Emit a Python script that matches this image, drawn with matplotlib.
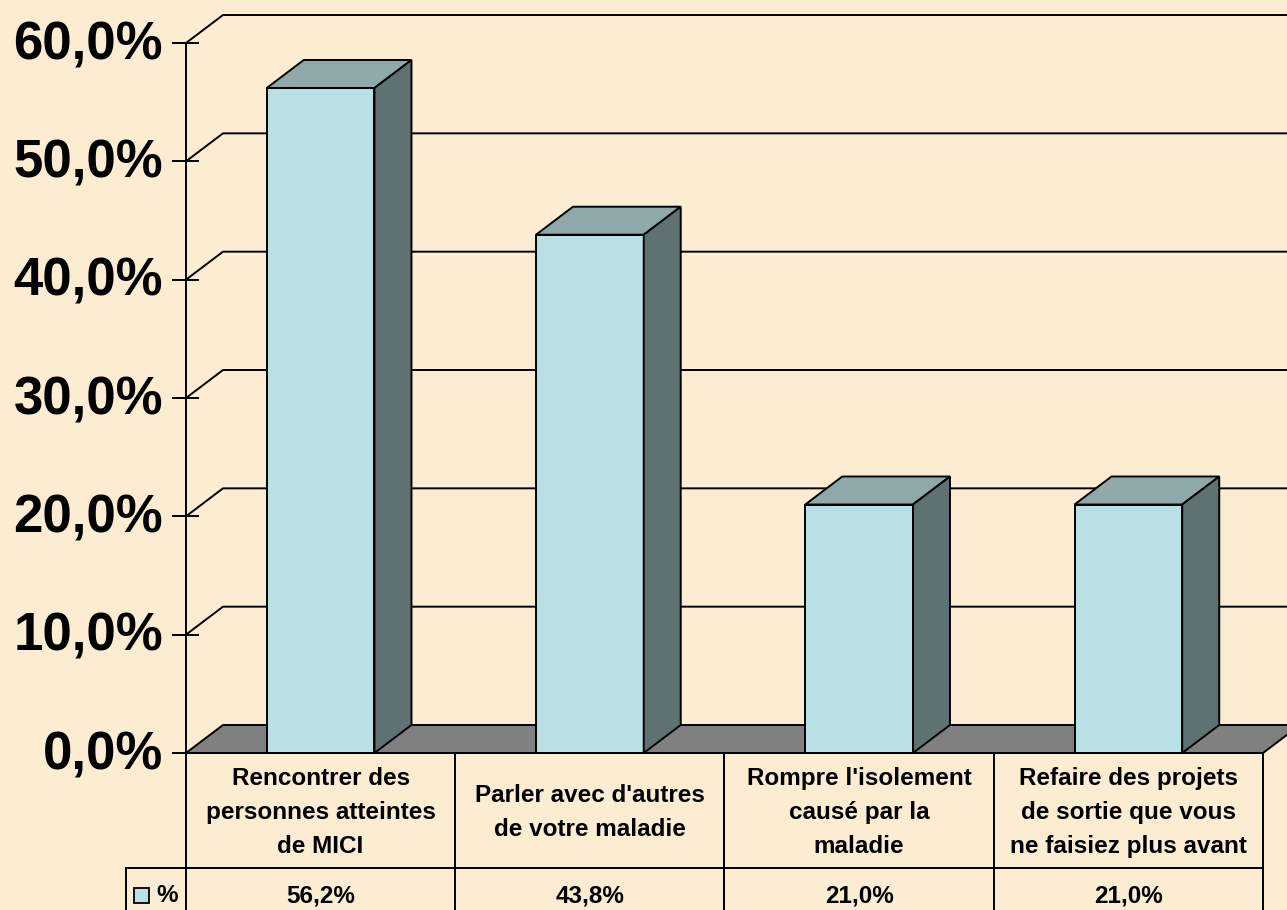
import matplotlib.pyplot as plt
from matplotlib.patches import Polygon, Rectangle

# Données
categories = [
    "Rencontrer des\npersonnes atteintes\nde MICI",
    "Parler avec d'autres\nde votre maladie",
    "Rompre l'isolement\ncausé par la\nmaladie",
    "Refaire des projets\nde sortie que vous\nne faisiez plus avant",
]
values = [56.2, 43.8, 21.0, 21.0]
y_ticks = [0, 10, 20, 30, 40, 50, 60]
series_name = '%'

# Couleurs
bg = '#FBECD2'
front_col = '#B9E0E4'
top_col = '#8FA9AB'
side_col = '#5E7173'
floor_col = '#808080'

plt.rcParams['font.family'] = ['Liberation Sans', 'DejaVu Sans']

# Échelle en pixels (image 1287 x 910)
W, H = 1287, 910
px_cat = 269.25   # pixels par catégorie
px_pct = 11.833   # pixels par %
x0_px, y0_px = 186, 753

fig = plt.figure(figsize=(W / 100, H / 100), dpi=100)
fig.patch.set_facecolor(bg)
ax = fig.add_axes([0, 0, 1, 1])
ax.set_xlim(-0.5 - x0_px / px_cat, -0.5 + (W - x0_px) / px_cat)
ax.set_ylim(-(H - y0_px) / px_pct, y0_px / px_pct)
ax.axis('off')

n = len(categories)
left, right = -0.5, n - 0.5
dx = 37 / px_cat      # profondeur 3D
dy = 28 / px_pct
half = 0.2            # demi-largeur des barres
lw = 1.4
far = right + 1

# Sol
ax.add_patch(Polygon([(left, 0), (right, 0), (right + dx, dy), (left + dx, dy)],
                     closed=True, facecolor=floor_col, edgecolor='black', lw=lw, zorder=2))

# Quadrillage (paroi gauche + fond) et graduations
for t in y_ticks:
    if t > 0:
        ax.plot([left, left + dx, far], [t, t + dy, t + dy], color='black', lw=lw, zorder=1)
    ax.plot([left - 13 / px_cat, left + 12 / px_cat], [t, t], color='black', lw=lw, zorder=3)
    ax.text(left - 23 / px_cat, t - 2 / px_pct, f'{t:.1f}%'.replace('.', ','),
            ha='right', va='center', fontsize=38, fontweight='bold', zorder=5)
ax.plot([left, left], [0, y_ticks[-1]], color='black', lw=lw, zorder=3)

# Barres 3D
for i, v in enumerate(values):
    xl, xr = i - half, i + half
    ax.add_patch(Polygon([(xl, 0), (xr, 0), (xr, v), (xl, v)], closed=True,
                         facecolor=front_col, edgecolor='black', lw=lw, zorder=4))
    ax.add_patch(Polygon([(xl, v), (xr, v), (xr + dx, v + dy), (xl + dx, v + dy)], closed=True,
                         facecolor=top_col, edgecolor='black', lw=lw, zorder=4))
    ax.add_patch(Polygon([(xr, 0), (xr + dx, dy), (xr + dx, v + dy), (xr, v)], closed=True,
                         facecolor=side_col, edgecolor='black', lw=lw, zorder=4))

# Tableau de données
bottom = ax.get_ylim()[0]
row1 = -(868 - y0_px) / px_pct
val_y = -(896 - y0_px) / px_pct
x_leg = left - 60 / px_cat
ax.plot([left, right], [0, 0], color='black', lw=lw, zorder=5)
ax.plot([x_leg, right], [row1, row1], color='black', lw=lw, zorder=5)
ax.plot([x_leg, x_leg], [row1, bottom], color='black', lw=lw, zorder=5)
for k in range(n + 1):
    ax.plot([left + k, left + k], [0, bottom], color='black', lw=lw, zorder=5)

for i, (cat, v) in enumerate(zip(categories, values)):
    ax.text(i, row1 / 2 - 2 / px_pct, cat, ha='center', va='center', fontsize=17.5,
            fontweight='bold', linespacing=1.6, zorder=6)
    ax.text(i, val_y, f'{v:.1f}%'.replace('.', ','), ha='center', va='center',
            fontsize=17.5, fontweight='bold', zorder=6)

# Légende dans le tableau
ax.add_patch(Rectangle((left - 52 / px_cat, -(903 - y0_px) / px_pct), 15 / px_cat, 15 / px_pct,
                       facecolor=front_col, edgecolor='black', lw=1.3, zorder=6))
ax.text(left - 30 / px_cat, val_y, series_name, ha='left', va='center',
        fontsize=17.5, fontweight='bold', zorder=6)

plt.savefig('out.png', dpi=100, facecolor=fig.get_facecolor())
